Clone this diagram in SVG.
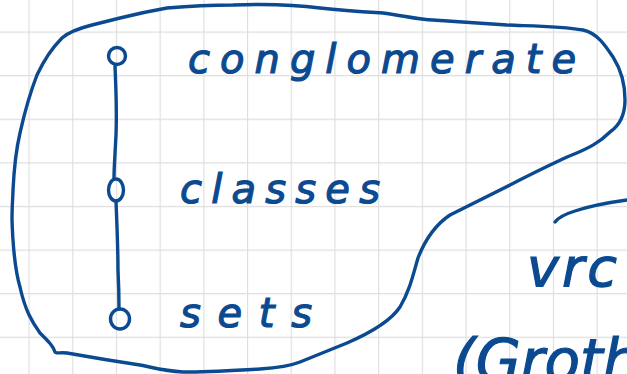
<svg xmlns="http://www.w3.org/2000/svg" width="627" height="374" viewBox="0 0 627 374">
<defs>
<pattern id="grid" patternUnits="userSpaceOnUse" x="28.5" y="31.5" width="43.7" height="43.6">
<path d="M0.5 0V43.6M0 0.5H43.7" fill="none" stroke="#dedede" stroke-width="1.3"/>
</pattern>
<style>
.ink{fill:none;stroke:#0b4a90;stroke-width:3.4;stroke-linecap:round;stroke-linejoin:round}
.hw{font-family:"DejaVu Sans","Noto Sans",sans-serif;fill:#0b4a90;stroke:#0b4a90;stroke-width:1.2;font-style:italic}
</style>
</defs>
<rect width="627" height="374" fill="#ffffff"/>
<rect width="627" height="374" fill="url(#grid)"/>

<g id="region-boundary">
<path class="ink" d="M13,190 C14,170 16,150 20,133 C24,115 28,98 37,75 C44,60 52,48 62,38 C70,31 80,28 92,25 C104,22 112,20 120,18 C132,15 150,11 167,8 C190,6 215,5 233,5 C260,4 290,4 320,8 C345,11 365,12 383,13 C400,15 420,20 433,20 C450,21 465,22 507,25 C530,26 560,26 583,30 C597,33 605,45 613,57 C620,68 625,80 625,100 C625,115 620,125 610,132 C600,142 590,148 567,157 C550,165 535,172 510,185 C490,195 470,205 450,215 C435,225 425,240 418,258 C413,275 410,290 400,307 C390,322 370,333 347,343 C330,350 315,356 300,362 C290,366 275,368 260,369 C240,370 210,372 183,372 C165,371 155,368 140,365 C120,362 95,358 67,353 C60,352 56,354 55,352 C53,346 50,343 40,333 C32,322 25,310 20,287 C15,270 13,250 12,220 C12,205 13,195 13,190 Z"/>
</g>

<g id="connectors">
<path class="ink" d="M115,66 C116,90 117,110 116,135 C115,155 114,168 114,178"/>
<path class="ink" d="M116,201 C117,225 118,250 118,270 C119,290 119,300 119,309"/>
</g>

<g id="node-conglomerate">
<circle class="ink" cx="117" cy="56" r="8.5"/>
<text class="hw" x="188" y="73" font-size="40" textLength="388" lengthAdjust="spacing">conglomerate</text>
</g>

<g id="node-classes">
<ellipse class="ink" cx="116" cy="190" rx="7.5" ry="11"/>
<text class="hw" x="180" y="203" font-size="40" textLength="200" lengthAdjust="spacing">classes</text>
</g>

<g id="node-sets">
<ellipse class="ink" cx="120" cy="319" rx="9.5" ry="10"/>
<text class="hw" x="180" y="327" font-size="40" textLength="132" lengthAdjust="spacing">sets</text>
</g>

<g id="right-notes">
<path class="ink" d="M555,222 C558,218 562,215 575,211 C590,206 605,203 627,200"/>
<text class="hw" x="527" y="286" font-size="54" textLength="90" lengthAdjust="spacing">vrc</text>
<text class="hw" x="453" y="381" font-size="58">(Groth</text>
</g>
</svg>
